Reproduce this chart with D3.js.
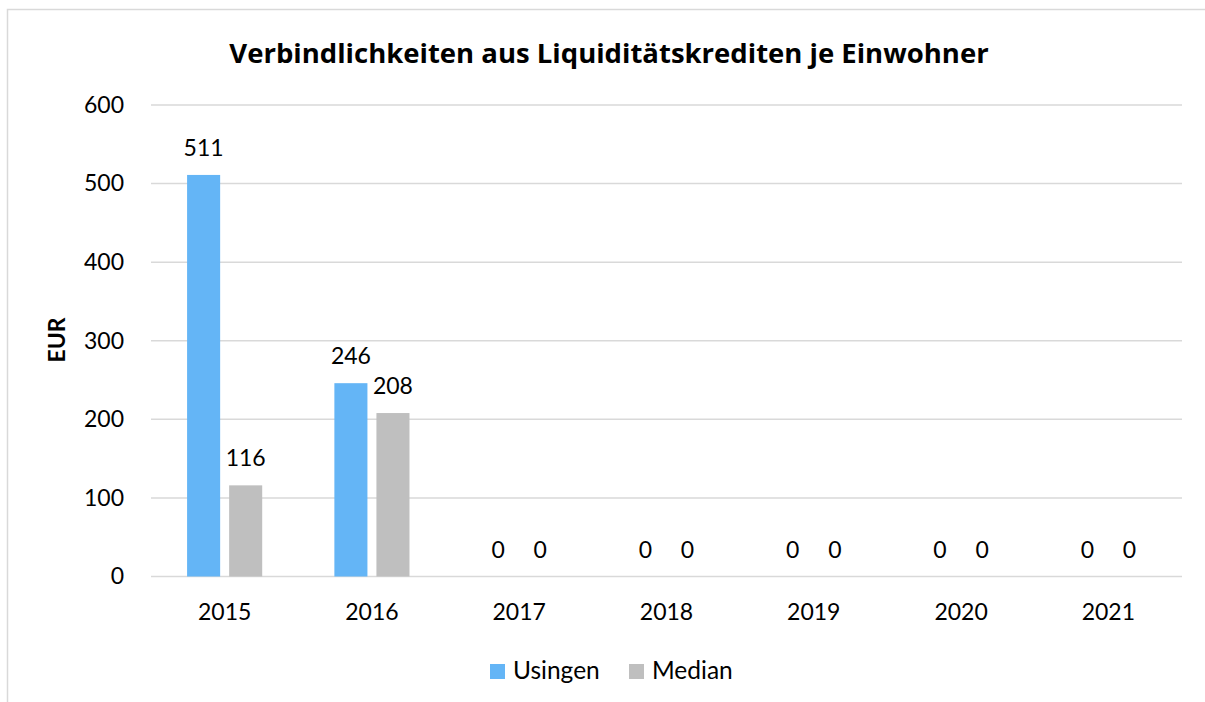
<!DOCTYPE html>
<html>
<head>
<meta charset="utf-8">
<script src="https://cdn.jsdelivr.net/npm/d3@7"></script>
<style>
  html, body { margin: 0; padding: 0; background: #fff; }
  svg { display: block; font-family: Lato, "Open Sans", sans-serif; }
</style>
</head>
<body>
<svg id="chart" width="1205" height="702"></svg>
<script>
const years = ["2015", "2016", "2017", "2018", "2019", "2020", "2021"];
const seriesNames = ["Usingen", "Median"];
const usingen = [511, 246, 0, 0, 0, 0, 0];
const median = [116, 208, 0, 0, 0, 0, 0];
const yTicks = [0, 100, 200, 300, 400, 500, 600];
const colors = ["#64b5f6", "#bfbfbf"];

const svg = d3.select("#chart");
const plot = { left: 151, right: 1182, top: 105, bottom: 576.5 };

// outer frame of the chart area
svg.append("rect")
  .attr("x", 7.5).attr("y", 9.5)
  .attr("width", 1220).attr("height", 720)
  .attr("fill", "none").attr("stroke", "#d9d9d9").attr("stroke-width", 1.5);

const y = d3.scaleLinear().domain([0, 600]).range([plot.bottom, plot.top]);
const x0 = d3.scaleBand().domain(years).range([plot.left, plot.right])
  .paddingInner(0.49).paddingOuter(0.245);
const x1 = d3.scaleBand().domain(seriesNames).range([0, x0.bandwidth()])
  .paddingInner(0.214).paddingOuter(0);

// gridlines
svg.append("g").selectAll("line").data(yTicks).join("line")
  .attr("x1", plot.left).attr("x2", plot.right)
  .attr("y1", d => y(d)).attr("y2", d => y(d))
  .attr("stroke", "#d9d9d9").attr("stroke-width", 1.5);

// y axis labels
const yAxis = d3.axisLeft(y).tickValues(yTicks).tickSize(0).tickPadding(27);
svg.append("g").attr("transform", `translate(${plot.left},0)`).call(yAxis)
  .call(g => g.select(".domain").remove())
  .selectAll("text").attr("font-size", 23).attr("fill", "#000")
  .attr("font-family", "Lato, sans-serif");

// x axis labels
const xAxis = d3.axisBottom(x0).tickSize(0).tickPadding(27);
svg.append("g").attr("transform", `translate(0,${plot.bottom})`).call(xAxis)
  .call(g => g.select(".domain").remove())
  .selectAll("text").attr("font-size", 23).attr("fill", "#000")
  .attr("font-family", "Lato, sans-serif");

const rows = years.map((yr, i) => ({ year: yr, values: [usingen[i], median[i]] }));

const groups = svg.append("g").selectAll("g").data(rows).join("g")
  .attr("transform", d => `translate(${x0(d.year)},0)`);

groups.selectAll("rect").data(d => d.values.map((v, k) => ({ key: seriesNames[k], v, k })))
  .join("rect")
  .attr("x", d => x1(d.key))
  .attr("y", d => y(d.v))
  .attr("width", x1.bandwidth())
  .attr("height", d => plot.bottom - y(d.v))
  .attr("fill", d => colors[d.k]);

groups.selectAll("text").data(d => d.values.map((v, k) => ({ key: seriesNames[k], v, k })))
  .join("text")
  .attr("x", d => x1(d.key) + x1.bandwidth() / 2)
  .attr("y", d => y(d.v) - 19)
  .attr("text-anchor", "middle")
  .attr("font-size", 23)
  .attr("fill", "#000")
  .text(d => d.v);

// title
svg.append("text")
  .attr("x", 609).attr("y", 63)
  .attr("text-anchor", "middle")
  .attr("font-family", "'Open Sans', sans-serif")
  .attr("font-size", 27.5).attr("font-weight", "bold")
  .attr("fill", "#000")
  .text("Verbindlichkeiten aus Liquiditätskrediten je Einwohner");

// y axis title
svg.append("text")
  .attr("transform", "translate(65,340) rotate(-90)")
  .attr("text-anchor", "middle")
  .attr("font-size", 23).attr("font-weight", "bold")
  .attr("fill", "#000")
  .text("EUR");

// legend
const legend = svg.append("g");
const legendItems = [{ name: seriesNames[0], x: 490 }, { name: seriesNames[1], x: 629 }];
legendItems.forEach((it, k) => {
  legend.append("rect").attr("x", it.x).attr("y", 664).attr("width", 15).attr("height", 15)
    .attr("fill", colors[k]);
  legend.append("text").attr("x", it.x + 23).attr("y", 679)
    .attr("font-size", 24.5).attr("fill", "#000").text(it.name);
});
</script>
</body>
</html>
